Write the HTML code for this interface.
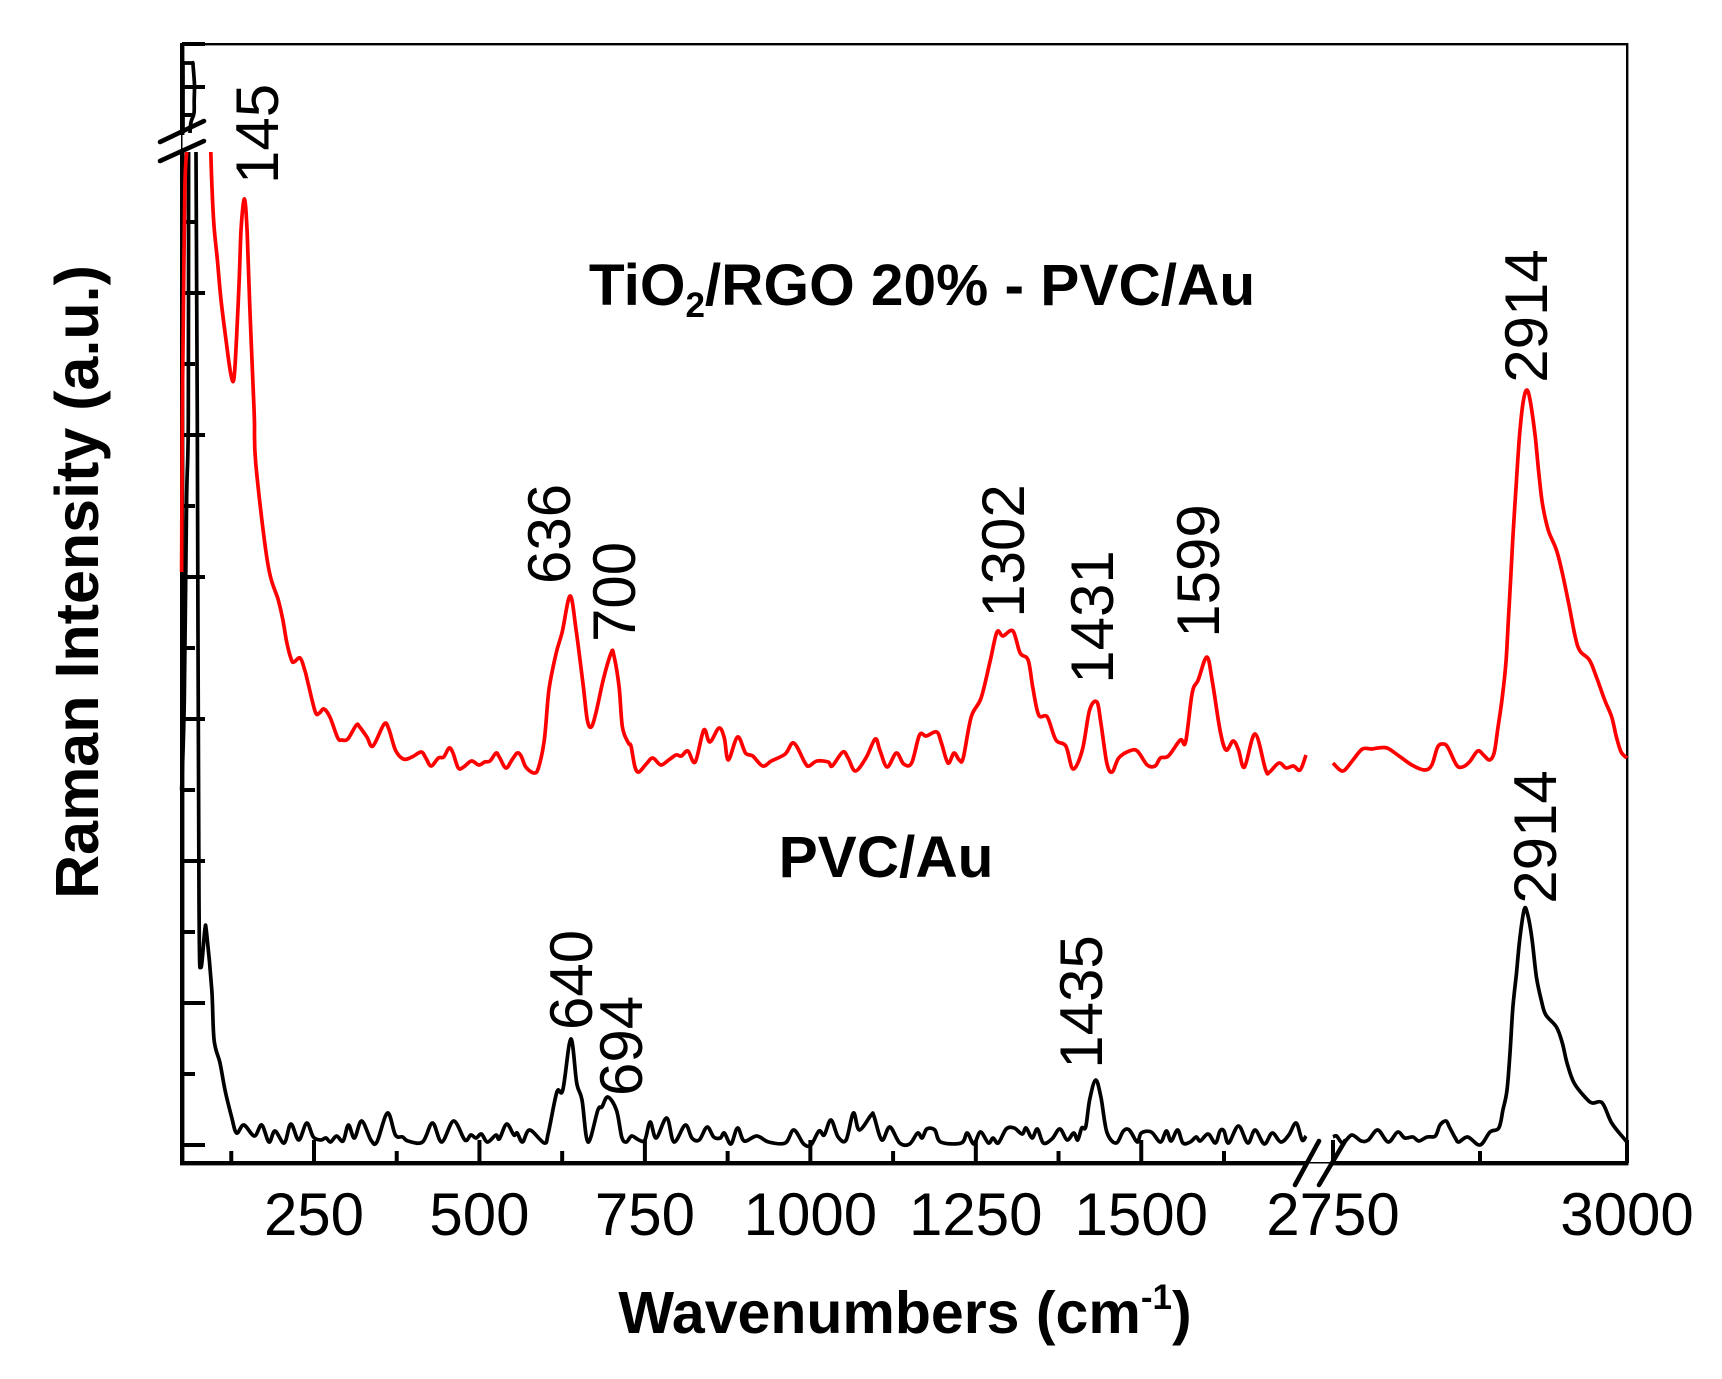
<!DOCTYPE html>
<html lang="en">
<head>
<meta charset="utf-8">
<title>Raman spectra</title>
<style>
html,body{margin:0;padding:0;background:#fff;}
svg{display:block;}
text{font-family:"Liberation Sans",Arial,sans-serif;fill:#000;}
.bold{font-weight:bold;}
</style>
</head>
<body>
<svg id="chart" xmlns="http://www.w3.org/2000/svg" width="1722" height="1379" viewBox="0 0 1722 1379">
  <rect x="0" y="0" width="1722" height="1379" fill="#fff"/>
  <g id="frame" fill="#000">
    <rect x="180" y="43" width="1448" height="2.4"/>
    <rect x="1626" y="43" width="2.4" height="1122"/>
    <rect x="180" y="43" width="4.4" height="92"/>
    <rect x="181" y="133" width="1.5" height="20"/>
    <rect x="180" y="152" width="4.4" height="1013"/>
    <rect x="180" y="1161" width="1127" height="4.4"/>
    <rect x="1307" y="1162" width="26" height="1.5"/>
    <rect x="1332" y="1161" width="296.4" height="4.4"/>
  </g>
  <g id="ticks"></g>
  <g id="series"></g>
  <g stroke="#000" stroke-width="4.6" stroke-linecap="round">
    <line x1="160" y1="142" x2="204" y2="121"/>
    <line x1="160" y1="161" x2="204" y2="141"/>
    <line x1="1295" y1="1185" x2="1319" y2="1141"/>
    <line x1="1319" y1="1185" x2="1345" y2="1141"/>
  </g>
  <g id="tick-labels" font-size="60" text-anchor="middle"></g>

  <text class="bold" x="905" y="1333" font-size="59" text-anchor="middle">Wavenumbers (cm<tspan font-size="35" dy="-24">-1</tspan><tspan dy="24">)</tspan></text>
  <text class="bold" transform="translate(98 582) rotate(-90)" font-size="61" text-anchor="middle">Raman Intensity (a.u.)</text>
  <text class="bold" x="922" y="305" font-size="58.6" text-anchor="middle">TiO<tspan font-size="35" dy="12">2</tspan><tspan dy="-12">/RGO 20% - PVC/Au</tspan></text>
  <text class="bold" x="886" y="877" font-size="58.6" text-anchor="middle">PVC/Au</text>

  <g font-size="60" text-anchor="middle">
    <text transform="translate(278 134) rotate(-90)">145</text>
    <text transform="translate(570 534) rotate(-90)">636</text>
    <text transform="translate(635 592) rotate(-90)">700</text>
    <text transform="translate(1024 551) rotate(-90)">1302</text>
    <text transform="translate(1113 617) rotate(-90)">1431</text>
    <text transform="translate(1219 571) rotate(-90)">1599</text>
    <text transform="translate(1547 316) rotate(-90)">2914</text>
    <text transform="translate(592 980) rotate(-90)">640</text>
    <text transform="translate(642 1046) rotate(-90)">694</text>
    <text transform="translate(1102 1002) rotate(-90)">1435</text>
    <text transform="translate(1556 837) rotate(-90)">2914</text>
  </g>
</svg>
<script>
var xMajorTicks = [250,500,750,1000,1250,1500,2750,3000];
var xMinorTicks = [125,375,625,875,1125,1375,1625,2875];
var xTickLabels = ["250","500","750","1000","1250","1500","2750","3000"];
var yMajorTicks = [0,142,284,426,568,710,852,1058,1101];
var yMinorTicks = [71,213,355,497,639,781,923,1030];

var redWavenumbers = [50,51,52.5,55,57.6,null,
94,96,99,104,109.5,117,124,129,133,137,140,145,149,153,158,160,162,180,196,
203,209,216,220,229,236,241,252,258,265,274,286,292,301,314,319,330,339,356,363,373,385,398,412,419,427,438,446,454,460,468,476,488,499,508,516,525,530,540,549,557,563,570,582,589,598,605,616,625,637,646,657,663,669,676,687,699,703,711,716,725,729,735,741,752,762,774,786,797,805,815,826,839,848,862,870,876,890,902,913,928,941,962,975,992,998,1010,1027,1033,1049,1057,1068,1084,1098,1105,1116,1130,1141,1153,1165,1175,1191,1198,1208,1217,1225,1231,1243,1258,1272,1282,1291,1306,1317,1329,1336,1345,1358,1371,1386,1397,1411,1422,1433,1439,1448,1456,1466,1482,1494,1509,1521,1529,1541,1559,1567,1577,1586,1599,1607,1619,1628,1639,1647,1656,1672,1688,1694,1708,1719,1730,1740,1749,null,
2750,2756,2760,2767,2775,2783,2788,2796,2805,2817,2828,2834,2839,2844,2848,2855,2860,2866,2873,2878,2883,2887,2890,2894,2897,2899,2901,2903,2906,2909,2912,2915,2918,2922,2925,2928,2933,2940,2945,2951,2956,2960,2968,2974,2981,2987,2991,2995,3000];
var redIntensity = [573,725,825,958,993,null,
993,955,918,885,845,805,772,766,808,865,918,946,912,838,758,725,681,582,545,
525,502,485,483,487,475,462,433,432,436,428,407,405,406,420,418,408,399,421,416,395,386,388,393,387,379,387,388,397,392,377,378,384,380,383,384,392,388,377,385,392,389,378,372,377,405,455,492,513,549,515,458,425,418,432,465,492,490,458,418,402,399,378,373,381,387,380,385,390,389,394,383,415,403,417,407,385,408,392,389,379,384,391,402,382,379,384,383,379,393,387,374,387,406,395,378,392,381,382,410,409,413,402,382,392,385,387,428,447,485,513,509,514,492,485,458,430,428,405,399,376,395,435,443,422,382,373,387,394,394,380,379,387,389,405,403,452,465,488,465,415,395,404,395,378,411,375,373,382,377,379,375,390,null,
382,375,375,385,396,396,397,397,390,380,375,380,398,401,397,380,378,383,394,390,385,392,415,448,482,522,565,608,665,715,745,755,742,708,672,642,615,595,572,538,508,494,485,468,445,428,408,393,387];

var blackWavenumbers = [50,54,57.5,60,60.5,null,
52,52,52,52.5,53,60,65,66.5,67,67.5,69.4,69,68.7,65,63.4,63,62.6,null,
71.7,73.7,76.2,79,85,87.5,95.5,99,108,115.5,125.5,133,
144,160,171,182,191,205,215,227,239,249,260,268,275,284,294,302,311,322,336,345,361,373,384,392,414,429,443,461,478,487,495,503,512,525,530,541,552,557,565,576,598,604,617,626,638,647,655,664,679,685,694,707,715,722,730,741,750,758,767,783,794,811,821,832,844,854,864,870,880,890,900,919,937,962,975,990,1001,1013,1021,1031,1042,1054,1065,1074,1092,1096,1108,1120,1135,1150,1162,1169,1176,1188,1197,1228,1237,1247,1257,1269,1276,1284,1296,1308,1320,1326,1335,1343,1352,1365,1377,1388,1398,1404,1410,1416,1422,1431,1439,1448,1462,1473,1482,1494,1500,1515,1529,1538,1545,1555,1563,1574,1583,1589,1601,1612,1619,1625,1632,1647,1661,1672,1686,1698,1711,1723,1734,1743,1749,null,
2750,2753,2758.5,2766,2774,2780,2788,2797,2805,2811,2818,2823,2830,2837,2841,2846,2849,2854,2857,2864.5,2875,2883.5,2891,2894.5,2898,2900.5,2903,2906,2909,2912.5,2915,2919,2923,2927.5,2931,2940,2945,2949,2955,2965,2970.5,2979,2987,2998.5,3000];
var blackIntensity = [355,445,645,725,993,null,
1012,1070,1081,1082,1082,1082,1082,1082,1082,1078,1060,1045,1032,1025,1020,1016,1012,null,
993,725,245,178,215,213,155,105,82,55,28,12,
20,9,20,3,14,2,21,5,22,8,5,7,3,9,4,20,7,24,5,3,32,10,8,4,3,22,3,24,5,10,7,11,3,10,6,21,10,12,3,15,2,12,53,55,106,62,45,3,35,38,48,35,8,3,9,5,5,23,7,27,3,20,7,5,18,8,7,12,1,17,4,9,3,2,15,1,0,14,10,25,8,5,32,15,30,29,5,18,2,1,12,7,16,15,3,2,12,1,13,2,7,2,16,17,11,17,7,16,2,6,16,5,12,5,17,18,45,65,48,13,2,14,15,3,12,13,3,14,4,15,2,3,8,4,11,2,14,14,2,19,2,15,1,12,3,10,22,5,9,null,
8,9,2,10,4,5,15,3,13,7,8,4,8,9,20,24,18,7,3,8,0,13,17,35,55,92,138,172,208,235,233,208,168,143,130,118,102,82,62,47,42,42,22,5,3];

function xScale(w) {
  return w <= 1750 ? 148.55 + w * 0.6618 : 1333 + (w - 2750) * 1.176;
}
function yScale(v) {
  return 1145 - v;
}
function svgNode(tag) {
  return document.createElementNS("http://www.w3.org/2000/svg", tag);
}
function buildPath(xs, ys) {
  var runs = [], run = [];
  for (var i = 0; i < xs.length; i++) {
    if (xs[i] === null || ys[i] === null) {
      if (run.length) runs.push(run);
      run = [];
    } else {
      run.push([xScale(xs[i]), yScale(ys[i])]);
    }
  }
  if (run.length) runs.push(run);
  var d = "";
  runs.forEach(function (p) {
    d += "M" + p[0][0].toFixed(1) + " " + p[0][1].toFixed(1);
    for (var k = 0; k < p.length - 1; k++) {
      var p0 = p[Math.max(k - 1, 0)], p1 = p[k], p2 = p[k + 1], p3 = p[Math.min(k + 2, p.length - 1)];
      var c1x = p1[0] + (p2[0] - p0[0]) / 6, c1y = p1[1] + (p2[1] - p0[1]) / 6;
      var c2x = p2[0] - (p3[0] - p1[0]) / 6, c2y = p2[1] - (p3[1] - p1[1]) / 6;
      d += "C" + c1x.toFixed(1) + " " + c1y.toFixed(1) + " " + c2x.toFixed(1) + " " + c2y.toFixed(1) + " " + p2[0].toFixed(1) + " " + p2[1].toFixed(1);
    }
  });
  return d;
}

var tickGroup = document.getElementById("ticks");
var labelGroup = document.getElementById("tick-labels");
var seriesGroup = document.getElementById("series");

xMajorTicks.forEach(function (w, i) {
  var t = svgNode("line");
  t.setAttribute("x1", xScale(w)); t.setAttribute("x2", xScale(w));
  t.setAttribute("y1", 1163); t.setAttribute("y2", 1140);
  t.setAttribute("stroke", "#000"); t.setAttribute("stroke-width", 4);
  
  
  tickGroup.appendChild(t);
  var lab = svgNode("text");
  lab.setAttribute("x", xScale(w));
  lab.setAttribute("y", 1235);
  lab.textContent = xTickLabels[i];
  
  
  labelGroup.appendChild(lab);
});
xMinorTicks.forEach(function (w) {
  var t = svgNode("line");
  t.setAttribute("x1", xScale(w)); t.setAttribute("x2", xScale(w));
  t.setAttribute("y1", 1163); t.setAttribute("y2", 1151);
  t.setAttribute("stroke", "#000"); t.setAttribute("stroke-width", 4);
  
  
  tickGroup.appendChild(t);
});
yMajorTicks.forEach(function (v) {
  var t = svgNode("line");
  t.setAttribute("x1", 182); t.setAttribute("x2", 205);
  t.setAttribute("y1", yScale(v)); t.setAttribute("y2", yScale(v));
  t.setAttribute("stroke", "#000"); t.setAttribute("stroke-width", 4);
  
  
  tickGroup.appendChild(t);
});
yMinorTicks.forEach(function (v) {
  var t = svgNode("line");
  t.setAttribute("x1", 182); t.setAttribute("x2", 195);
  t.setAttribute("y1", yScale(v)); t.setAttribute("y2", yScale(v));
  t.setAttribute("stroke", "#000"); t.setAttribute("stroke-width", 4);
  
  
  tickGroup.appendChild(t);
});

var blackLine = svgNode("path");
blackLine.setAttribute("d", buildPath(blackWavenumbers, blackIntensity));
blackLine.setAttribute("fill", "none");
blackLine.setAttribute("stroke", "#000");
blackLine.setAttribute("stroke-width", 3.7);
blackLine.setAttribute("stroke-linejoin", "round");


seriesGroup.appendChild(blackLine);

var redLine = svgNode("path");
redLine.setAttribute("d", buildPath(redWavenumbers, redIntensity));
redLine.setAttribute("fill", "none");
redLine.setAttribute("stroke", "#ff0000");
redLine.setAttribute("stroke-width", 3.7);
redLine.setAttribute("stroke-linejoin", "round");


seriesGroup.appendChild(redLine);
</script>
</body>
</html>
